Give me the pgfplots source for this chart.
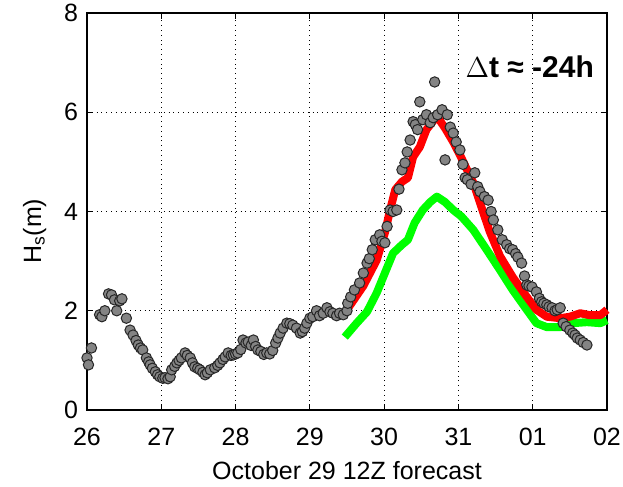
\documentclass[border=0pt]{standalone}
\usepackage{pgfplots}
\pgfplotsset{compat=1.18}
\usepackage{fontspec}
\setmainfont{Liberation Sans}
\usetikzlibrary{calc}
\definecolor{obsgray}{RGB}{132,132,132}
\begin{document}
\begin{tikzpicture}
\begin{axis}[
  scale only axis,
  width=260pt, height=198.5pt,
  xmin=26, xmax=33, ymin=0, ymax=8,
  xtick={26,27,28,29,30,31,32,33},
  xticklabels={26,27,28,29,30,31,01,02},
  ytick={0,2,4,6,8},
  tick align=inside,
  major tick length=3pt,
  xtick pos=both, ytick pos=both,
  grid=major,
  major grid style={black, dotted, line width=0.5pt},
  axis line style={black, line width=0.6pt},
  tick style={black, line width=0.6pt},
  /pgf/number format/assume math mode=true,
  tick label style={font=\fontsize{12.5}{14}\selectfont},
  xticklabel style={yshift=-5.5pt},
  yticklabel style={xshift=-1pt},
  xlabel={October 29 12Z forecast},
  xlabel style={font=\fontsize{12.5}{14}\selectfont, yshift=-1pt},
  ylabel={H$_{\mathrm{s}}$(m)},
  ylabel style={font=\fontsize{12.5}{14}\selectfont, at={(ticklabel cs:0.45)}, yshift=2pt},
  clip=false,
]
\coordinate (ll) at (rel axis cs:0,0);
\coordinate (ur) at (rel axis cs:1,1);
\addplot[only marks, mark=*, mark size=2.6pt,
  mark options={fill=obsgray, draw=black!85, line width=0.5pt}] coordinates {
(26.00,1.05) (26.02,0.91) (26.06,1.25) (26.17,1.92) (26.20,1.88) (26.24,2.00)
(26.29,2.34) (26.33,2.32) (26.37,2.22) (26.40,2.00) (26.44,2.20) (26.47,2.24)
(26.53,1.85) (26.58,1.61) (26.62,1.51) (26.66,1.40) (26.69,1.31) (26.72,1.25)
(26.75,1.21) (26.80,1.05) (26.83,0.97) (26.85,0.91) (26.88,0.84) (26.92,0.77)
(26.95,0.71) (26.98,0.67) (27.02,0.64) (27.05,0.65) (27.09,0.63) (27.12,0.67)
(27.14,0.81) (27.18,0.88) (27.21,0.95) (27.24,1.00) (27.27,1.05) (27.32,1.15)
(27.35,1.10) (27.39,1.05) (27.42,0.95) (27.45,0.87) (27.49,0.84) (27.52,0.81)
(27.56,0.76) (27.59,0.71) (27.62,0.75) (27.66,0.81) (27.72,0.85) (27.76,0.90)
(27.79,0.95) (27.83,1.02) (27.86,1.07) (27.90,1.15) (27.94,1.10) (27.97,1.11)
(28.00,1.13) (28.03,1.15) (28.07,1.22) (28.10,1.41) (28.14,1.35) (28.17,1.37)
(28.21,1.30) (28.24,1.41) (28.27,1.28) (28.30,1.21) (28.34,1.18) (28.38,1.12)
(28.42,1.15) (28.46,1.13) (28.50,1.20) (28.54,1.35) (28.57,1.45) (28.60,1.55)
(28.64,1.65) (28.69,1.75) (28.73,1.74) (28.77,1.71) (28.82,1.65) (28.87,1.55)
(28.90,1.58) (28.93,1.65) (28.96,1.75) (29.00,1.85) (29.04,1.88) (29.09,2.00)
(29.13,1.90) (29.18,1.95) (29.23,2.06) (29.27,1.98) (29.31,1.95) (29.36,1.90)
(29.40,1.95) (29.45,1.92) (29.50,2.00) (29.51,2.15) (29.55,2.28) (29.60,2.42)
(29.67,2.56) (29.72,2.76) (29.77,2.96) (29.80,3.05) (29.84,3.23) (29.88,3.43)
(29.94,3.53) (29.97,3.40) (30.01,3.37) (30.04,3.70) (30.08,4.03) (30.12,4.00)
(30.17,4.03) (30.20,4.45) (30.24,4.84) (30.28,4.98) (30.31,5.20) (30.35,5.44)
(30.39,5.81) (30.42,5.75) (30.45,5.65) (30.48,6.21) (30.52,5.85) (30.57,5.95)
(30.62,5.79) (30.66,5.89) (30.68,6.61) (30.72,5.95) (30.78,6.05) (30.82,5.04)
(30.85,5.95) (30.89,5.70) (30.93,5.58) (30.97,5.40) (31.02,5.24) (31.06,4.95)
(31.09,4.68) (31.12,4.64) (31.17,4.55) (31.22,4.78) (31.26,4.50) (31.29,4.40)
(31.35,4.30) (31.40,4.23) (31.44,4.00) (31.47,3.83) (31.53,3.63) (31.59,3.43)
(31.65,3.33) (31.69,3.25) (31.73,3.23) (31.77,3.15) (31.80,3.08) (31.85,2.96)
(31.89,2.70) (31.92,2.52) (31.95,2.50) (31.99,2.48) (32.05,2.38) (32.09,2.25)
(32.12,2.18) (32.15,2.15) (32.19,2.12) (32.22,2.08) (32.26,2.06) (32.30,2.00)
(32.33,2.02) (32.37,2.06) (32.41,1.75) (32.45,1.68) (32.50,1.61) (32.54,1.55)
(32.57,1.51) (32.60,1.45) (32.64,1.41) (32.68,1.36) (32.73,1.31)
};
\addplot[color={rgb,255:red,0;green,255;blue,0}, line width=4pt, line join=round] coordinates {
(29.47,1.47) (29.63,1.75) (29.77,1.98) (29.90,2.36) (30.01,2.76) (30.12,3.16)
(30.24,3.33) (30.32,3.43) (30.41,3.77) (30.52,4.03) (30.62,4.19) (30.71,4.30)
(30.82,4.19) (30.93,4.03) (31.04,3.90) (31.20,3.63) (31.38,3.23) (31.56,2.82)
(31.73,2.42) (31.92,2.02) (32.05,1.75) (32.19,1.67) (32.37,1.67) (32.54,1.75)
(32.73,1.77) (32.91,1.75) (33.00,1.81)
};
\addplot[color={rgb,255:red,255;green,0;blue,0}, line width=4pt, line join=round] coordinates {
(29.50,2.02) (29.72,2.50) (29.90,3.02) (30.01,3.57) (30.08,4.03) (30.15,4.44)
(30.24,4.60) (30.32,4.68) (30.39,5.10) (30.48,5.30) (30.57,5.65) (30.71,5.92)
(30.82,5.68) (30.93,5.40) (31.04,5.08) (31.20,4.58) (31.33,4.00) (31.42,3.60)
(31.56,3.10) (31.73,2.68) (31.92,2.28) (32.05,2.02) (32.19,1.88) (32.37,1.85)
(32.50,1.88) (32.64,1.95) (32.77,1.91) (32.91,1.91) (33.00,2.02)
};
\node[font=\bfseries\fontsize{15}{16}\selectfont] at (axis cs:31.96,6.92) {$\Delta$t ≈ -24h};
\end{axis}
\pgfresetboundingbox
\path ($(ll)+(-43.5pt,-38pt)$) rectangle ($(ur)+(8pt,6.5pt)$);
\end{tikzpicture}
\end{document}
